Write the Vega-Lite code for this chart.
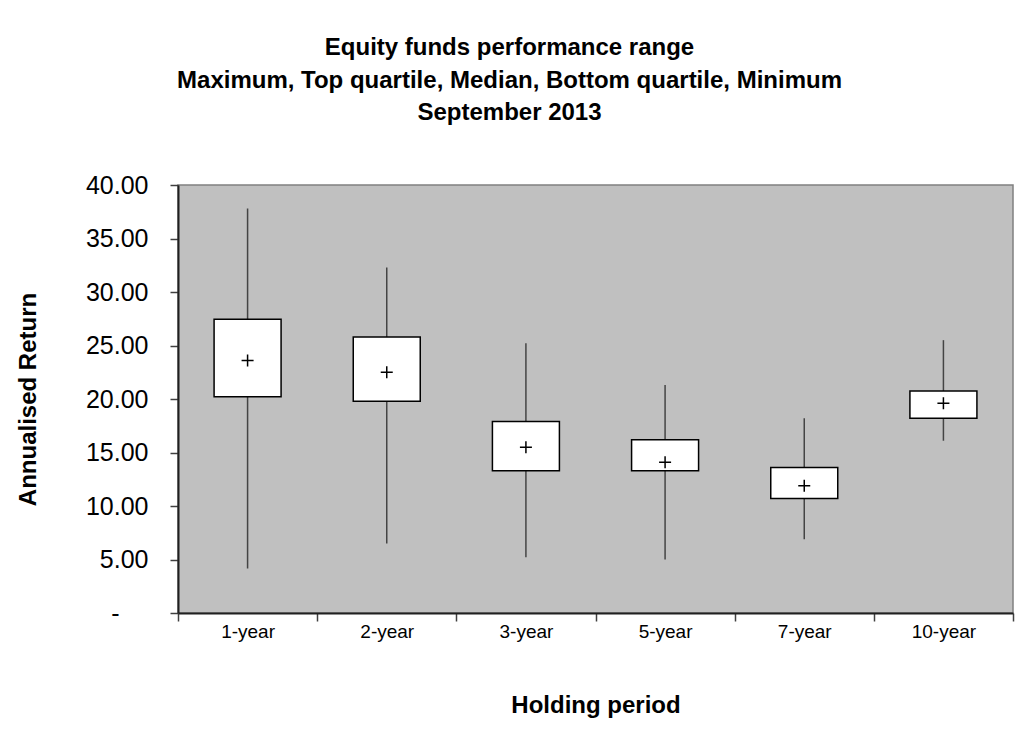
{
  "$schema": "https://vega.github.io/schema/vega-lite/v6.json",
  "autosize": "none",
  "width": 835,
  "height": 428,
  "padding": {"left": 178, "top": 185, "right": 5, "bottom": 120},
  "background": "white",
  "title": {
    "text": ["Equity funds performance range", "Maximum, Top quartile, Median, Bottom quartile, Minimum", "September 2013"],
    "font": "Liberation Sans",
    "fontSize": 24,
    "fontWeight": "bold",
    "color": "black",
    "lineHeight": 32.5,
    "anchor": "middle",
    "frame": "group",
    "baseline": "top",
    "offset": 0,
    "dx": -86,
    "dy": -48
  },
  "config": {
    "view": {"fill": "#c0c0c0", "stroke": "#808080", "strokeWidth": 1.5},
    "font": "Liberation Sans"
  },
  "data": {
    "values": [
      {"period": "1-year", "min": 4.15, "q1": 20.2, "mean": 23.6, "q3": 27.45, "max": 37.8},
      {"period": "2-year", "min": 6.5, "q1": 19.8, "mean": 22.5, "q3": 25.8, "max": 32.3},
      {"period": "3-year", "min": 5.2, "q1": 13.3, "mean": 15.5, "q3": 17.9, "max": 25.2},
      {"period": "5-year", "min": 5.0, "q1": 13.3, "mean": 14.1, "q3": 16.2, "max": 21.3},
      {"period": "7-year", "min": 6.9, "q1": 10.7, "mean": 11.9, "q3": 13.6, "max": 18.2},
      {"period": "10-year", "min": 16.1, "q1": 18.2, "mean": 19.6, "q3": 20.75, "max": 25.5}
    ]
  },
  "encoding": {
    "x": {
      "field": "period",
      "type": "nominal",
      "sort": null,
      "scale": {"paddingInner": 0, "paddingOuter": 0},
      "axis": {
        "title": "Holding period",
        "titleFont": "Liberation Sans",
        "titleFontSize": 24,
        "titleFontWeight": "bold",
        "titleColor": "black",
        "titleY": 99,
        "titleBaseline": "alphabetic",
        "labelFont": "Liberation Sans",
        "labelFontSize": 19,
        "labelColor": "black",
        "labelAngle": 0,
        "labelPadding": 1,
        "tickBand": "extent",
        "tickSize": 8,
        "tickColor": "#404040",
        "tickWidth": 1.5,
        "domainColor": "#202020",
        "domainWidth": 2
      }
    }
  },
  "layer": [
    {
      "mark": {"type": "rule", "color": "#444444", "strokeWidth": 1.5},
      "encoding": {
        "y": {
          "field": "min",
          "type": "quantitative",
          "scale": {"domain": [0, 40], "nice": false},
          "axis": {
            "title": "Annualised Return",
            "titleFont": "Liberation Sans",
            "titleFontSize": 24,
            "titleFontWeight": "bold",
            "titleColor": "black",
            "titleX": -150,
            "titleBaseline": "middle",
            "values": [0, 5, 10, 15, 20, 25, 30, 35, 40],
            "labelExpr": "datum.value == 0 ? '-' : format(datum.value, '.2f')",
            "labelFont": "Liberation Sans",
            "labelFontSize": 25,
            "labelColor": "black",
            "labelPadding": {"condition": {"test": "datum.value == 0", "value": 51}, "value": 22},
            "tickSize": 8,
            "tickColor": "#404040",
            "tickWidth": 1.5,
            "domainColor": "#202020",
            "domainWidth": 2,
            "grid": false
          }
        },
        "y2": {"field": "max"}
      }
    },
    {
      "mark": {"type": "bar", "fill": "white", "stroke": "black", "strokeWidth": 1.5, "size": 67},
      "encoding": {
        "y": {"field": "q1", "type": "quantitative"},
        "y2": {"field": "q3"}
      }
    },
    {
      "mark": {"type": "point", "shape": "M-1,0L1,0M0,-1L0,1", "filled": false, "stroke": "black", "strokeWidth": 1.5, "size": 144, "opacity": 1},
      "encoding": {
        "y": {"field": "mean", "type": "quantitative"}
      }
    }
  ]
}
